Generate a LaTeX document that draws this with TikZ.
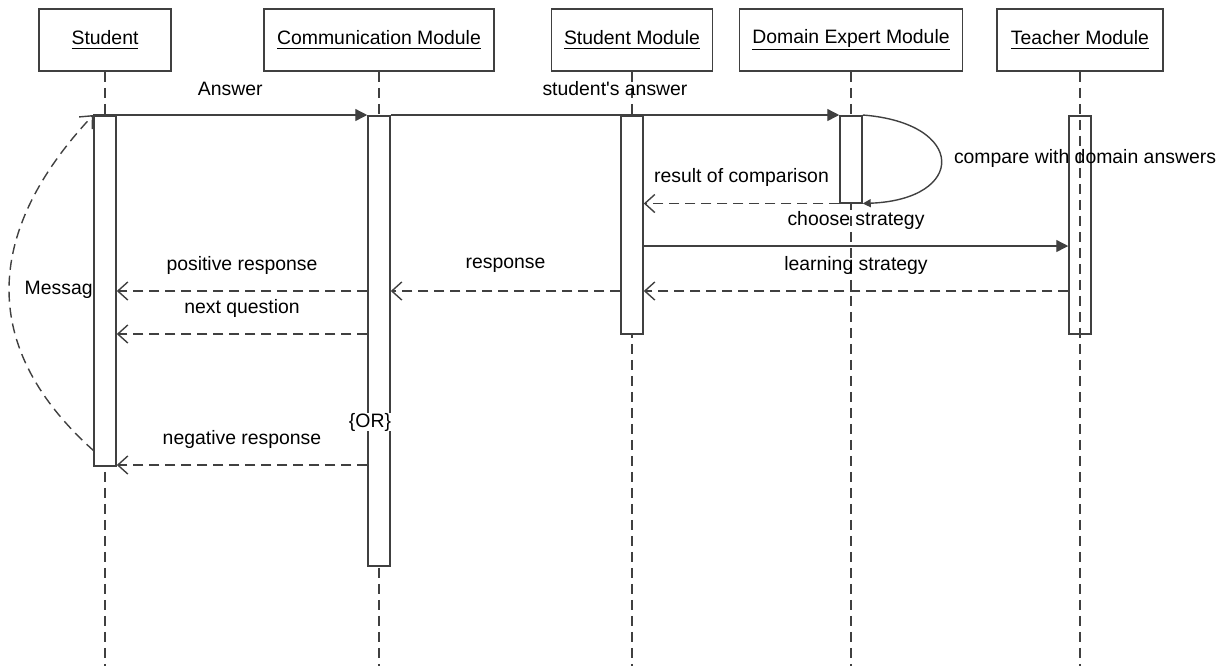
\documentclass[tikz,border=0pt]{standalone}
\usepackage{fontspec}
\setmainfont{Liberation Sans}
\usetikzlibrary{arrows.meta,positioning}

\definecolor{linegray}{HTML}{404040}

\tikzset{
  head/.style={draw=linegray, line width=0.75pt, minimum height=31pt, inner sep=0pt,
    font=\fontsize{9.7}{11}\selectfont},
  act/.style={draw=linegray, line width=0.75pt, fill=white, anchor=north,
    minimum width=11pt, inner sep=0pt},
  lifeline/.style={draw=linegray, line width=0.75pt, dash pattern=on 5pt off 3pt},
  call/.style={draw=linegray, line width=0.7pt, -{Triangle[length=6pt,width=6pt]}},
  reply/.style={draw=linegray, line width=0.7pt, dash pattern=on 5pt off 3pt,
    -{Straight Barb[length=5pt,width=9pt]}},
  lbl/.style={font=\fontsize{9.7}{11}\selectfont, yshift=13pt},
}

\begin{document}
\begin{tikzpicture}[x=0.5pt, y=-0.5pt]
  \useasboundingbox (0,0) rectangle (1222,666);

  % objects
  \node[head, minimum width=66pt]   (stu) at (105,40) {\underline{Student}};
  \node[head, minimum width=115pt]  (com) at (379,40) {\underline{Communication Module}};
  \node[head, minimum width=80.5pt] (sm)  at (632,40) {\underline{Student Module}};
  \node[head, minimum width=111.5pt] (de) at (851,40) {\underline{Domain Expert Module}};
  \node[head, minimum width=83pt]   (tea) at (1080,40) {\underline{Teacher Module}};

  % lifelines
  \coordinate (bottom) at (0,666);
  \foreach \o in {stu,com,sm,de,tea}
    \draw[lifeline] (\o.south) -- (\o.south |- bottom);

  % message rows
  \coordinate (r4) at (0,246);
  \coordinate (r5) at (0,291);
  \coordinate (r6) at (0,334);
  \coordinate (r7) at (0,465);

  % activations
  \node[act, minimum height=175pt] (stuA) at (105,115) {};
  \node[act, minimum height=225pt] (comA) at (379,115) {};
  \node[act, minimum height=109pt] (smA)  at (632,115) {};
  \node[act, minimum height=43.5pt] (deA) at (851,115) {};
  \node[act, fill=none, minimum height=109pt] (teaA) at (1080,115) {};

  % messages
  \draw[call] (stuA.north west) -- node[lbl, midway] {Answer} (comA.north west);
  \draw[call] (comA.north east) -- node[lbl, midway] {student\textquotesingle s answer} (deA.north west);
  \draw[draw=linegray, line width=0.7pt, -{Triangle[length=4pt,width=4pt]}]
    (deA.north east) .. controls +(104,8) and +(104,-4) .. (deA.south east);
  \node[font=\fontsize{9.7}{11}\selectfont] (cmp) at (1085,158) {compare with domain answers};
  \draw[reply] (deA.south west) -- node[lbl, midway] {result of comparison} (smA.east |- deA.south west);
  \draw[call] (smA.east |- r4) -- node[lbl, midway] {choose strategy} (teaA.west |- r4);
  \draw[reply] (teaA.west |- r5) -- node[lbl, midway] {learning strategy} (smA.east |- r5);
  \draw[reply] (smA.west |- r5) -- node[lbl, midway] {response} (comA.east |- r5);
  \draw[reply] (comA.west |- r5) -- node[lbl, midway] {positive response} (stuA.east |- r5);
  \draw[reply] (comA.west |- r6) -- node[lbl, midway] {next question} (stuA.east |- r6);
  \draw[reply] (comA.west |- r7) -- node[lbl, midway] {negative response} (stuA.east |- r7);
  \node[fill=white, inner sep=0pt, font=\fontsize{9.7}{11}\selectfont] (or) at (370,422) {\{OR\}};

  % message back to student
  \coordinate (msgStart) at (94,451);
  \draw[reply] (msgStart) .. controls (-19,350) and (-19,235) .. (stuA.north west);
  \node[anchor=east, inner sep=0pt, font=\fontsize{9.7}{11}\selectfont] (msg) at (93,290) {Messag};
\end{tikzpicture}
\end{document}
